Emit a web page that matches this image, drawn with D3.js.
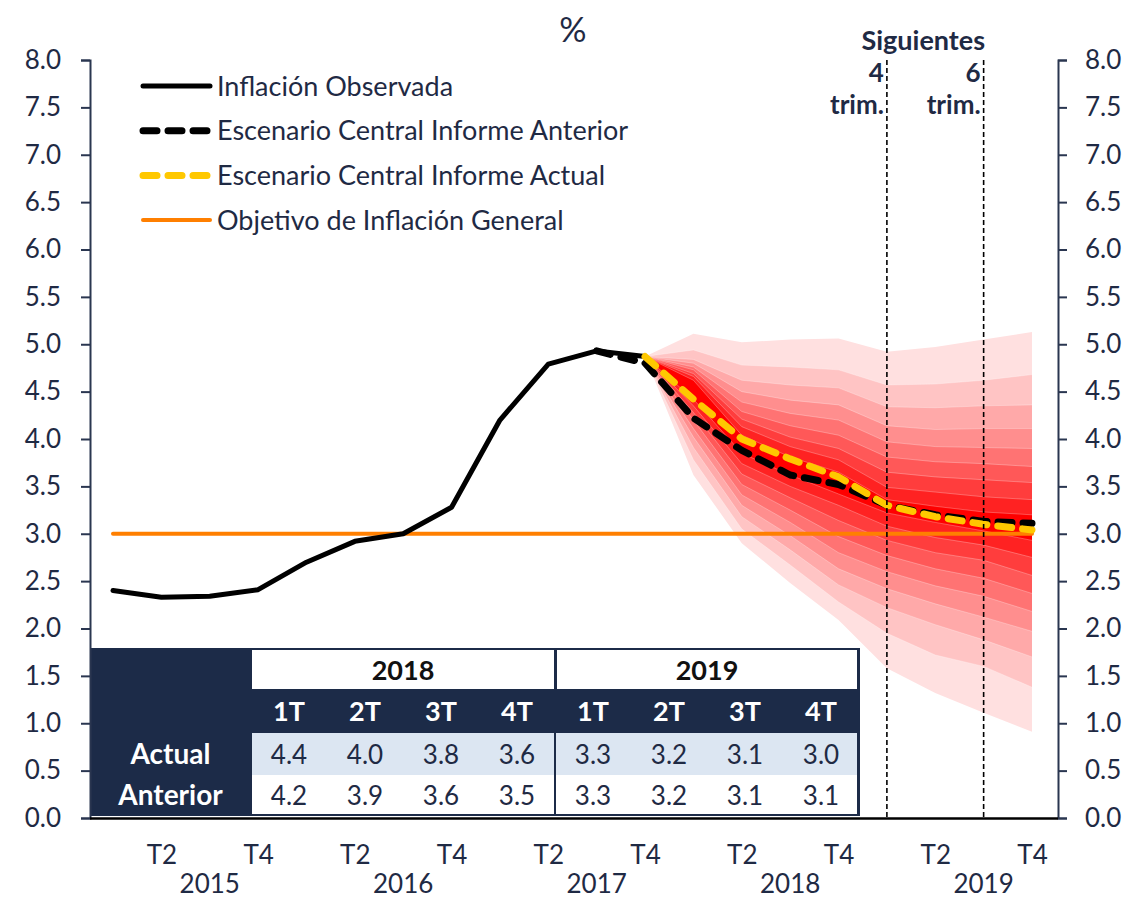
<!DOCTYPE html>
<html>
<head>
<meta charset="utf-8">
<script src="https://cdn.jsdelivr.net/npm/d3@7"></script>
<style>
  body { margin: 0; background: #ffffff; }
  svg { display: block; }
  text { font-family: Lato, "Noto Sans", sans-serif; }
</style>
</head>
<body>
<svg id="chart" width="1130" height="900"></svg>
<script>
// ---- Data -------------------------------------------------------------
const quarters = [
  "2015T1","2015T2","2015T3","2015T4",
  "2016T1","2016T2","2016T3","2016T4",
  "2017T1","2017T2","2017T3","2017T4",
  "2018T1","2018T2","2018T3","2018T4",
  "2019T1","2019T2","2019T3","2019T4"
];

// Observed inflation, 2015T1 - 2017T4
const observedValues = [2.40, 2.33, 2.34, 2.41, 2.70, 2.92, 3.00, 3.28, 4.20, 4.79, 4.93, 4.87];

// Central scenario of the previous report, 2017T3 - 2019T4
const previousStart = "2017T3";
const previousValues = [4.93, 4.80, 4.22, 3.88, 3.62, 3.52, 3.30, 3.20, 3.13, 3.11];

// Central scenario of the current report, 2017T4 - 2019T4
const currentStart = "2017T4";
const currentValues = [4.87, 4.42, 4.00, 3.79, 3.60, 3.30, 3.18, 3.10, 3.04];

// Inflation target
const targetValue = 3.0;

// Fan chart bounds, 2017T4 - 2019T4; level 0 is the outermost band
const fanStart = "2017T4";
const fanUpper = [
  [4.87, 5.11, 5.02, 5.05, 5.06, 4.92, 4.97, 5.05, 5.13],
  [4.87, 4.94, 4.78, 4.76, 4.73, 4.57, 4.58, 4.62, 4.68],
  [4.87, 4.84, 4.62, 4.57, 4.54, 4.34, 4.33, 4.35, 4.36],
  [4.87, 4.80, 4.50, 4.41, 4.36, 4.14, 4.10, 4.11, 4.11],
  [4.87, 4.76, 4.39, 4.27, 4.20, 3.97, 3.92, 3.91, 3.90],
  [4.87, 4.73, 4.29, 4.14, 4.04, 3.81, 3.76, 3.74, 3.71],
  [4.87, 4.69, 4.21, 4.02, 3.90, 3.65, 3.60, 3.57, 3.54],
  [4.87, 4.66, 4.13, 3.92, 3.78, 3.49, 3.44, 3.39, 3.36],
  [4.87, 4.62, 4.04, 3.81, 3.65, 3.36, 3.29, 3.23, 3.20]
];
const fanLower = [
  [4.87, 3.62, 2.90, 2.48, 2.09, 1.58, 1.32, 1.11, 0.91],
  [4.87, 3.78, 3.05, 2.67, 2.28, 1.95, 1.72, 1.60, 1.38],
  [4.87, 3.91, 3.18, 2.83, 2.46, 2.22, 2.04, 1.88, 1.70],
  [4.87, 4.02, 3.30, 2.98, 2.63, 2.42, 2.26, 2.12, 1.97],
  [4.87, 4.11, 3.41, 3.12, 2.80, 2.60, 2.45, 2.34, 2.18],
  [4.87, 4.20, 3.52, 3.25, 2.97, 2.77, 2.63, 2.53, 2.37],
  [4.87, 4.28, 3.63, 3.38, 3.14, 2.93, 2.80, 2.72, 2.56],
  [4.87, 4.35, 3.74, 3.50, 3.30, 3.08, 2.96, 2.88, 2.75],
  [4.87, 4.42, 3.85, 3.62, 3.42, 3.22, 3.12, 3.03, 2.93]
];
const fanColors = ["#ffe0e0", "#ffc4c4", "#ffa9a9", "#ff8e8e", "#ff7373",
                   "#ff5858", "#ff3d3d", "#ff2222", "#ff0000"];

// Axis labels
const quarterTickLabels = { "T2": "T2", "T4": "T4" };
const yearLabels = ["2015", "2016", "2017", "2018", "2019"];
const yTicks = [0, 0.5, 1, 1.5, 2, 2.5, 3, 3.5, 4, 4.5, 5, 5.5, 6, 6.5, 7, 7.5, 8];

// Horizon markers
const horizonQuarters = ["2019T1", "2019T3"];
const horizonLabels = [["4", "trim."], ["6", "trim."]];

// Table
const tableYears = ["2018", "2019"];
const tableQuarters = ["1T", "2T", "3T", "4T", "1T", "2T", "3T", "4T"];
const tableRows = ["Actual", "Anterior"];

// Legend
const legendItems = [
  { label: "Inflación Observada", color: "#000000", dash: null, width: 5 },
  { label: "Escenario Central Informe Anterior", color: "#000000", dash: "14 11", width: 7 },
  { label: "Escenario Central Informe Actual", color: "#ffc800", dash: "14 11", width: 7 },
  { label: "Objetivo de Inflación General", color: "#ff7f00", dash: null, width: 4 }
];

// ---- Layout -------------------------------------------------------------
const navy = "#1c2b48";
const textColor = "#1f2a44";
const svg = d3.select("#chart");

const x = d3.scalePoint().domain(quarters).range([113, 1032]);
const y = d3.scaleLinear().domain([0, 8]).range([818, 60]);
const axisLeftX = 90, axisRightX = 1058;

const idx = q => quarters.indexOf(q);
const seriesFrom = (start, values) =>
  values.map((v, i) => ({ q: quarters[idx(start) + i], v }));

// ---- Fan chart ----------------------------------------------------------
const fanQs = fanUpper[0].map((_, i) => quarters[idx(fanStart) + i]);
const fanArea = d3.area()
  .x(d => x(d.q)).y0(d => y(d.lo)).y1(d => y(d.hi));
const edgeLine = d3.line().x(d => x(d.q)).y(d => y(d.v));

const fanG = svg.append("g");
fanUpper.forEach((upper, level) => {
  const pts = fanQs.map((q, i) => ({ q, hi: upper[i], lo: fanLower[level][i] }));
  fanG.append("path").attr("d", fanArea(pts)).attr("fill", fanColors[level]);
  if (level > 0) {
    [upper, fanLower[level]].forEach(edge => {
      fanG.append("path")
        .attr("d", edgeLine(fanQs.map((q, i) => ({ q, v: edge[i] }))))
        .attr("fill", "none")
        .attr("stroke", "rgba(255,255,255,0.35)")
        .attr("stroke-width", 0.8);
    });
  }
});

// ---- Lines --------------------------------------------------------------
const line = d3.line().x(d => x(d.q)).y(d => y(d.v));

svg.append("path")
  .attr("d", line(quarters.map(q => ({ q, v: targetValue }))))
  .attr("fill", "none").attr("stroke", "#ff7f00")
  .attr("stroke-width", 4).attr("stroke-linecap", "round");

svg.append("path")
  .attr("d", line(seriesFrom(quarters[0], observedValues)))
  .attr("fill", "none").attr("stroke", "#000")
  .attr("stroke-width", 5).attr("stroke-linecap", "round")
  .attr("stroke-linejoin", "round");

svg.append("path")
  .attr("d", line(seriesFrom(previousStart, previousValues)))
  .attr("fill", "none").attr("stroke", "#000")
  .attr("stroke-width", 7).attr("stroke-dasharray", "14 11")
  .attr("stroke-linecap", "round").attr("stroke-linejoin", "round");

svg.append("path")
  .attr("d", line(seriesFrom(currentStart, currentValues)))
  .attr("fill", "none").attr("stroke", "#ffc800")
  .attr("stroke-width", 7).attr("stroke-dasharray", "14 11")
  .attr("stroke-linecap", "round").attr("stroke-linejoin", "round");

// ---- Horizon markers ----------------------------------------------------
horizonQuarters.forEach((q, i) => {
  svg.append("line")
    .attr("x1", x(q)).attr("x2", x(q))
    .attr("y1", y(8)).attr("y2", y(0))
    .attr("stroke", "#000").attr("stroke-width", 1.6)
    .attr("stroke-dasharray", "5 3");
  horizonLabels[i].forEach((t, j) => {
    svg.append("text")
      .attr("x", x(q) - 3).attr("y", 82 + j * 32)
      .attr("text-anchor", "end")
      .attr("font-size", 26).attr("font-weight", "bold")
      .attr("fill", textColor).text(t);
  });
});
svg.append("text")
  .attr("x", (x(horizonQuarters[0]) + x(horizonQuarters[1])) / 2 - 12).attr("y", 50)
  .attr("text-anchor", "middle")
  .attr("font-size", 27).attr("font-weight", "bold")
  .attr("fill", textColor).text("Siguientes");

// ---- Table --------------------------------------------------------------
const tableTop = 648, tableBottom = 816;
const tLeft = axisLeftX, tColStart = 251, tRight = 859;
const col = d3.scaleBand().domain(d3.range(tableQuarters.length)).range([tColStart, tRight]);
const rowYear = [650, 689], rowQ = [689, 732], rowA = [733, 775], rowB = [775, 814];

const tg = svg.append("g");
tg.append("rect").attr("x", tLeft).attr("y", tableTop)
  .attr("width", tRight - tLeft + 1).attr("height", tableBottom - tableTop)
  .attr("fill", navy);

// year header cells
tableYears.forEach((yr, i) => {
  const x0 = col(i * 4) + (i === 0 ? 1 : 2), x1 = col(i * 4 + 3) + col.bandwidth() - (i === 0 ? 1 : 2);
  tg.append("rect").attr("x", x0).attr("y", rowYear[0])
    .attr("width", x1 - x0).attr("height", rowYear[1] - rowYear[0]).attr("fill", "#ffffff");
  tg.append("text").attr("x", (x0 + x1) / 2).attr("y", (rowYear[0] + rowYear[1]) / 2 + 10)
    .attr("text-anchor", "middle").attr("font-size", 27).attr("font-weight", "bold")
    .attr("fill", "#111").text(yr);
});

// quarter header
tableQuarters.forEach((t, i) => {
  tg.append("text").attr("x", col(i) + col.bandwidth() / 2).attr("y", (rowQ[0] + rowQ[1]) / 2 + 10)
    .attr("text-anchor", "middle").attr("font-size", 27).attr("font-weight", "bold")
    .attr("fill", "#ffffff").text(t);
});

// body rows
const bodyValues = [currentValues.slice(1), previousValues.slice(2)];
const rowBands = [rowA, rowB];
const rowFills = ["#dce6f2", "#ffffff"];
tableRows.forEach((name, r) => {
  const [r0, r1] = rowBands[r];
  [0, 1].forEach(i => {
    const x0 = col(i * 4) + 1, x1 = col(i * 4 + 3) + col.bandwidth() - (i === 0 ? 1 : 2);
    tg.append("rect").attr("x", x0).attr("y", r0)
      .attr("width", x1 - x0).attr("height", r1 - r0).attr("fill", rowFills[r]);
  });
  tg.append("text").attr("x", (tLeft + tColStart) / 2).attr("y", (r0 + r1) / 2 + 10)
    .attr("text-anchor", "middle").attr("font-size", 28).attr("font-weight", "bold")
    .attr("fill", "#ffffff").text(name);
  bodyValues[r].forEach((v, i) => {
    tg.append("text").attr("x", col(i) + col.bandwidth() / 2).attr("y", (r0 + r1) / 2 + 10)
      .attr("text-anchor", "middle").attr("font-size", 26)
      .attr("fill", textColor).text(d3.format(".1f")(v));
  });
});

// ---- Axes ---------------------------------------------------------------
const fmt = d3.format(".1f");
const leftAxis = svg.append("g").attr("transform", `translate(${axisLeftX},0)`)
  .call(d3.axisLeft(y).tickValues(yTicks).tickFormat(fmt).tickSize(9).tickPadding(20));
const rightAxis = svg.append("g").attr("transform", `translate(${axisRightX},0)`)
  .call(d3.axisRight(y).tickValues(yTicks).tickFormat(fmt).tickSize(9).tickPadding(18));
[leftAxis, rightAxis].forEach(g => {
  g.select(".domain").attr("stroke", "#2a3650").attr("stroke-width", 2);
  g.selectAll(".tick line").attr("stroke", "#2a3650").attr("stroke-width", 2);
  g.selectAll(".tick text").attr("font-size", 26).attr("fill", textColor)
    .attr("font-family", "Lato, 'Noto Sans', sans-serif");
});

// category axis baseline
svg.append("line").attr("x1", axisLeftX).attr("x2", axisRightX)
  .attr("y1", y(0) + 0.5).attr("y2", y(0) + 0.5)
  .attr("stroke", "#000").attr("stroke-width", 2.5);

// quarter and year labels
const bottomAxis = svg.append("g").attr("transform", `translate(0,${y(0)})`)
  .call(d3.axisBottom(x)
    .tickValues(quarters.filter(q => quarterTickLabels[q.slice(4)]))
    .tickFormat(q => quarterTickLabels[q.slice(4)])
    .tickSize(0).tickPadding(28));
bottomAxis.select(".domain").remove();
bottomAxis.selectAll(".tick text").attr("font-size", 26).attr("fill", textColor)
  .attr("font-family", "Lato, 'Noto Sans', sans-serif");

yearLabels.forEach(yr => {
  svg.append("text").attr("x", x(yr + "T3")).attr("y", 893)
    .attr("text-anchor", "middle").attr("font-size", 26).attr("fill", textColor).text(yr);
});

// ---- Title & legend -----------------------------------------------------
svg.append("text").attr("x", 573).attr("y", 42).attr("text-anchor", "middle")
  .attr("font-size", 34).attr("fill", textColor).text("%");

legendItems.forEach((it, i) => {
  const ly = 86 + i * 44.7;
  svg.append("line").attr("x1", 143).attr("x2", 210).attr("y1", ly).attr("y2", ly)
    .attr("stroke", it.color).attr("stroke-width", it.width)
    .attr("stroke-dasharray", it.dash).attr("stroke-linecap", "round");
  svg.append("text").attr("x", 217).attr("y", ly + 9.5)
    .attr("font-size", 27).attr("fill", textColor).text(it.label);
});
</script>
</body>
</html>
